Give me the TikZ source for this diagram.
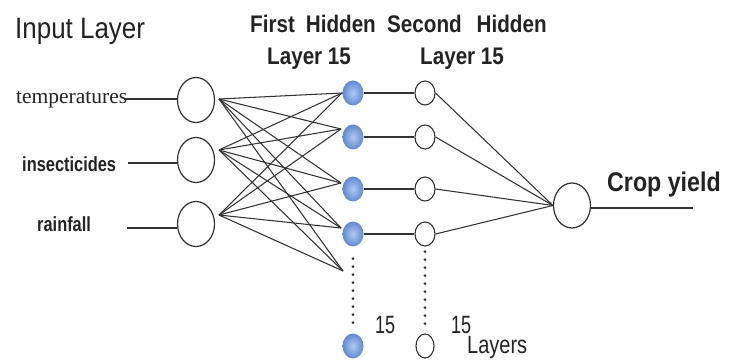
\documentclass[tikz,border=0pt]{standalone}
\usepackage{fontspec}
\setmainfont{Liberation Sans}
\newfontfamily\fontTitle[FakeStretch=0.88]{Liberation Sans}
\newfontfamily\fontHead[FakeStretch=0.86]{Liberation Sans}
\newfontfamily\fontLbl[FakeStretch=0.8]{Liberation Sans}
\newfontfamily\fontNum[FakeStretch=0.72]{Liberation Sans}
\newfontfamily\fontSerif{Liberation Serif}
\usetikzlibrary{shapes.geometric}
\definecolor{linec}{RGB}{50,50,50}
\definecolor{txtc}{RGB}{35,35,35}
\definecolor{blueL}{RGB}{175,200,242}
\definecolor{blueD}{RGB}{98,138,208}
\begin{document}
\begin{tikzpicture}[x=1pt,y=-1pt,
  inputnode/.style={ellipse, draw=linec, line width=1.2pt, minimum width=37pt, minimum height=45pt, inner sep=0pt},
  bluenode/.style={ellipse, draw=none, inner color=blueL, outer color=blueD, minimum width=21pt, minimum height=25pt, inner sep=0pt},
  whitenode/.style={ellipse, draw=linec, line width=1.1pt, fill=white, minimum width=20pt, minimum height=24pt, inner sep=0pt},
  txt/.style={inner sep=0pt, anchor=base west, text=txtc},
  thinline/.style={draw=linec, line width=1.05pt},
  thickline/.style={draw=linec, line width=2.3pt},
  dotline/.style={draw=linec, line width=3pt, line cap=round, dash pattern=on 0pt off 8pt}
]
\fill[white] (0,0) rectangle (730,363);
\useasboundingbox (0,0) rectangle (730,363);

% titles
\node[txt] (tin) at (15,39) {\fontTitle\fontsize{29.5}{30}\selectfont Input Layer};
\node[txt] (th1) at (250,33) {\fontHead\bfseries\fontsize{24}{24}\selectfont First\hspace{11pt}Hidden};
\node[txt] (th2) at (387,33) {\fontHead\bfseries\fontsize{24}{24}\selectfont Second\hspace{15pt}Hidden};
\node[txt] (tl1) at (267,65) {\fontHead\bfseries\fontsize{24}{24}\selectfont Layer 15};
\node[txt] (tl2) at (420,65) {\fontHead\bfseries\fontsize{24}{24}\selectfont Layer 15};

% input labels
\node[txt] (lt) at (16,104) {\fontSerif\fontsize{21.5}{22}\selectfont temperatures};
\node[txt] (li) at (22,172) {\fontLbl\bfseries\fontsize{20.5}{21}\selectfont insecticides};
\node[txt] (lr) at (37,232) {\fontLbl\bfseries\fontsize{20.5}{21}\selectfont rainfall};

% input nodes
\node[inputnode] (i1) at (196,100) {};
\node[inputnode] (i2) at (196,160) {};
\node[inputnode] (i3) at (196,224) {};

\coordinate (lt0) at (124,99);
\coordinate (li0) at (128,163);
\coordinate (lr0) at (127,228);
\draw[thickline] (lt0) -- (lt0 -| i1.west);
\draw[thickline] (li0) -- (li0 -| i2.west);
\draw[thickline] (lr0) -- (lr0 -| i3.west);

% first hidden
\node[bluenode] (h1) at (353,93) {};
\node[bluenode] (h2) at (353,137) {};
\node[bluenode] (h3) at (353,189) {};
\node[bluenode] (h4) at (353,234) {};
\node[bluenode] (h5) at (353,346) {};

% second hidden
\node[whitenode] (s1) at (425,93) {};
\node[whitenode] (s2) at (425,137) {};
\node[whitenode] (s3) at (425,189) {};
\node[whitenode] (s4) at (425,234) {};
\node[whitenode, minimum width=18pt] (s5) at (425,346) {};

% output
\node[inputnode] (o) at (572,205.5) {};
\coordinate (oend) at (693,208);

% fan points
\coordinate (a1) at (219,99);
\coordinate (a2) at (219,150);
\coordinate (a3) at (219,215);
\coordinate (b1) at (342,93);
\coordinate (b2) at (341,129);
\coordinate (b3) at (341,183);
\coordinate (b4) at (341,228);
\coordinate (b5) at (343,271);

\foreach \a in {a1,a2,a3}{
  \foreach \b in {b1,b2,b3,b4,b5}{
    \draw[thinline] (\a) -- (\b);
  }
}

% hidden to second hidden
\draw[thickline] (h1.east) -- (s1.west);
\draw[thickline] (h2.east) -- (s2.west);
\draw[thickline] (h3.east) -- (s3.west);
\draw[thickline] (h4.east) -- (s4.west);

% second hidden to output
\foreach \s in {s1,s2,s3,s4}{
  \draw[thinline] (\s.east) -- (o.west);
}
\draw[thickline] (o.east |- oend) -- (oend);

% dots
\draw[dotline] ([yshift=-12pt]h4.south) -- ([yshift=6pt]h5.north);
\draw[dotline] ([yshift=-5pt]s4.south) -- ([yshift=6pt]s5.north);

% bottom labels
\node[txt] (n1) at (375,333) {\fontNum\fontsize{25}{25}\selectfont 15};
\node[txt] (n2) at (451,333) {\fontNum\fontsize{25}{25}\selectfont 15};
\node[txt] (ly) at (467,353) {\fontLbl\fontsize{25}{25}\selectfont Layers};

\node[txt] (cy) at (607,192) {\fontHead\bfseries\fontsize{27}{27}\selectfont Crop yield};
\end{tikzpicture}
\end{document}
